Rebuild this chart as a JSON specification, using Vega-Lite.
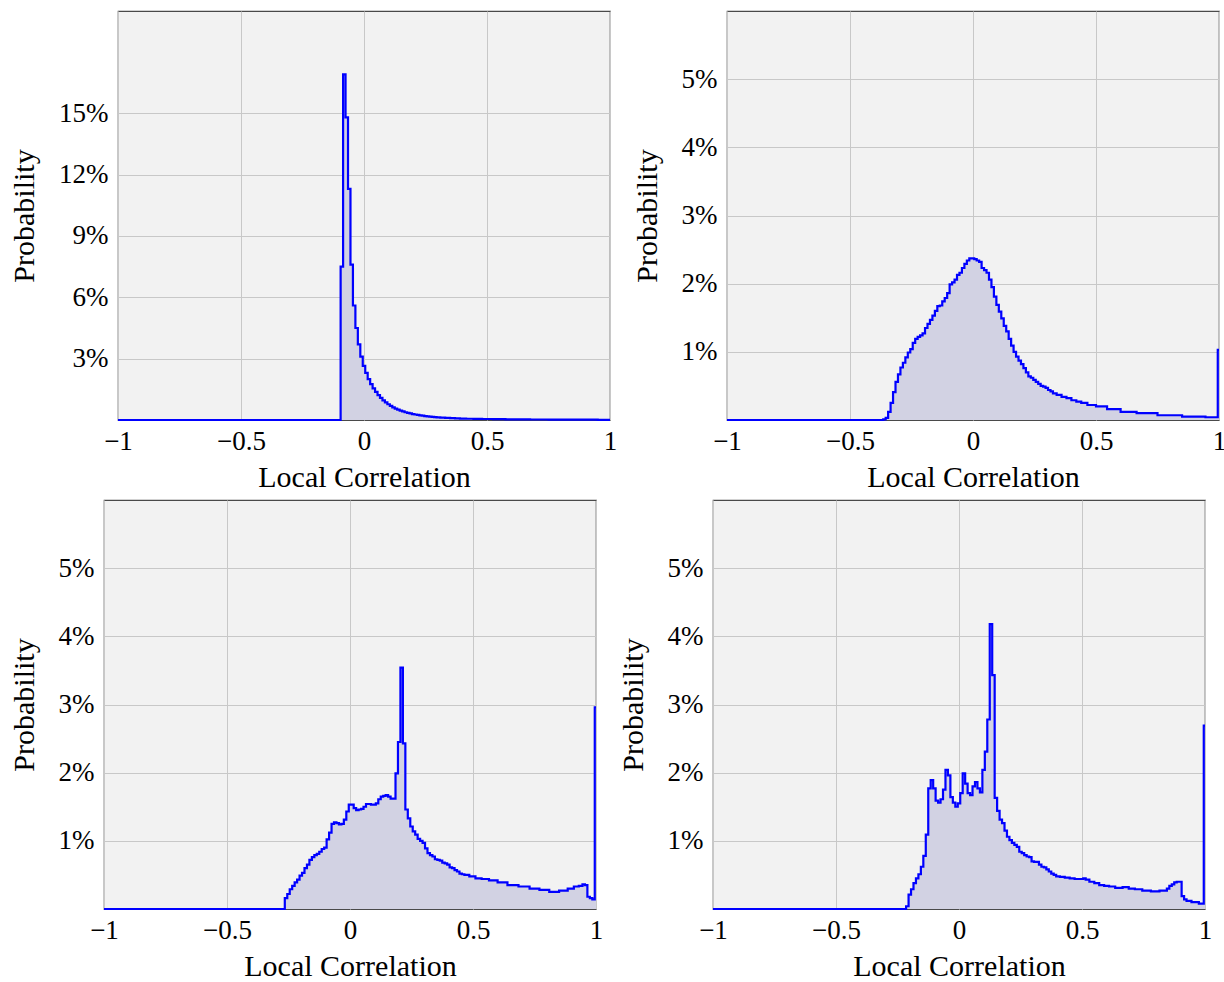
{
  "$schema": "https://vega.github.io/schema/vega-lite/v6.json",
  "padding": {"left": -12, "top": 8, "right": 0, "bottom": 0},
  "background": "white",
  "config": {
    "view": {"fill": "#f2f2f2", "stroke": "#4a4a4a", "strokeWidth": 1.2},
    "axis": {
      "labelFont": "Liberation Serif", "titleFont": "Liberation Serif",
      "labelFontSize": 27, "titleFontSize": 30, "titleFontWeight": "normal",
      "labelColor": "#000000", "titleColor": "#000000",
      "gridColor": "#c8c8c8", "gridWidth": 1, "domain": false, "ticks": false,
      "labelPadding": 10, "labelFlush": false, "labelOverlap": false, "labelBound": false
    },
    "axisX": {"titlePadding": 8, "labelPadding": 8},
    "axisY": {"titlePadding": 19}
  },
  "datasets": {
    "tl": [
      {"x": -1, "p": 0}, {"x": -0.10, "p": 0}, {"x": -0.09, "p": 7.5}, {"x": -0.08, "p": 16.9}, {"x": -0.07, "p": 14.8},
      {"x": -0.06, "p": 11.3}, {"x": -0.05, "p": 7.6}, {"x": -0.04, "p": 5.6}, {"x": -0.03, "p": 4.5}, {"x": -0.02, "p": 3.7},
      {"x": -0.01, "p": 3.1}, {"x": 0, "p": 2.65}, {"x": 0.01, "p": 2.3}, {"x": 0.02, "p": 2.0}, {"x": 0.03, "p": 1.75},
      {"x": 0.04, "p": 1.55}, {"x": 0.05, "p": 1.38}, {"x": 0.06, "p": 1.22}, {"x": 0.07, "p": 1.08}, {"x": 0.08, "p": 0.96},
      {"x": 0.09, "p": 0.86}, {"x": 0.10, "p": 0.77}, {"x": 0.11, "p": 0.69}, {"x": 0.12, "p": 0.62}, {"x": 0.13, "p": 0.56},
      {"x": 0.14, "p": 0.51}, {"x": 0.15, "p": 0.46}, {"x": 0.16, "p": 0.42}, {"x": 0.17, "p": 0.38}, {"x": 0.18, "p": 0.35},
      {"x": 0.19, "p": 0.32}, {"x": 0.20, "p": 0.29}, {"x": 0.21, "p": 0.27}, {"x": 0.22, "p": 0.25}, {"x": 0.23, "p": 0.23},
      {"x": 0.24, "p": 0.21}, {"x": 0.25, "p": 0.19}, {"x": 0.26, "p": 0.18}, {"x": 0.27, "p": 0.165}, {"x": 0.28, "p": 0.15},
      {"x": 0.29, "p": 0.14}, {"x": 0.30, "p": 0.13}, {"x": 0.32, "p": 0.115}, {"x": 0.34, "p": 0.10}, {"x": 0.36, "p": 0.09},
      {"x": 0.38, "p": 0.08}, {"x": 0.40, "p": 0.07}, {"x": 0.43, "p": 0.06}, {"x": 0.46, "p": 0.055}, {"x": 0.50, "p": 0.05},
      {"x": 0.55, "p": 0.04}, {"x": 0.60, "p": 0.035}, {"x": 0.65, "p": 0.03}, {"x": 0.70, "p": 0.025}, {"x": 0.80, "p": 0.02},
      {"x": 0.90, "p": 0.015}, {"x": 1, "p": 0.01}
    ],
    "tr": [
      {"x": -1, "p": 0}, {"x": -0.37, "p": 0}, {"x": -0.36, "p": 0.01}, {"x": -0.35, "p": 0.03}, {"x": -0.34, "p": 0.12},
      {"x": -0.33, "p": 0.25}, {"x": -0.32, "p": 0.41}, {"x": -0.31, "p": 0.56}, {"x": -0.30, "p": 0.67}, {"x": -0.29, "p": 0.77},
      {"x": -0.28, "p": 0.84}, {"x": -0.27, "p": 0.92}, {"x": -0.26, "p": 0.99}, {"x": -0.25, "p": 1.04}, {"x": -0.24, "p": 1.13},
      {"x": -0.23, "p": 1.19}, {"x": -0.22, "p": 1.22}, {"x": -0.21, "p": 1.24}, {"x": -0.20, "p": 1.27}, {"x": -0.19, "p": 1.35},
      {"x": -0.18, "p": 1.41}, {"x": -0.17, "p": 1.47}, {"x": -0.16, "p": 1.53}, {"x": -0.15, "p": 1.60}, {"x": -0.14, "p": 1.67},
      {"x": -0.13, "p": 1.68}, {"x": -0.12, "p": 1.74}, {"x": -0.11, "p": 1.79}, {"x": -0.10, "p": 1.86}, {"x": -0.09, "p": 1.99},
      {"x": -0.08, "p": 2.02}, {"x": -0.07, "p": 2.06}, {"x": -0.06, "p": 2.13}, {"x": -0.05, "p": 2.16}, {"x": -0.04, "p": 2.23},
      {"x": -0.03, "p": 2.29}, {"x": -0.02, "p": 2.34}, {"x": -0.01, "p": 2.37}, {"x": 0, "p": 2.37}, {"x": 0.01, "p": 2.36},
      {"x": 0.02, "p": 2.34}, {"x": 0.03, "p": 2.32}, {"x": 0.04, "p": 2.23}, {"x": 0.05, "p": 2.20}, {"x": 0.06, "p": 2.16},
      {"x": 0.07, "p": 2.06}, {"x": 0.08, "p": 1.95}, {"x": 0.09, "p": 1.81}, {"x": 0.10, "p": 1.69}, {"x": 0.11, "p": 1.59},
      {"x": 0.12, "p": 1.49}, {"x": 0.13, "p": 1.38}, {"x": 0.14, "p": 1.30}, {"x": 0.15, "p": 1.19}, {"x": 0.16, "p": 1.09},
      {"x": 0.17, "p": 1.00}, {"x": 0.18, "p": 0.93}, {"x": 0.19, "p": 0.87}, {"x": 0.20, "p": 0.82}, {"x": 0.21, "p": 0.76},
      {"x": 0.22, "p": 0.70}, {"x": 0.23, "p": 0.64}, {"x": 0.24, "p": 0.62}, {"x": 0.25, "p": 0.59}, {"x": 0.26, "p": 0.56},
      {"x": 0.27, "p": 0.53}, {"x": 0.28, "p": 0.50}, {"x": 0.29, "p": 0.49}, {"x": 0.30, "p": 0.47}, {"x": 0.31, "p": 0.44},
      {"x": 0.32, "p": 0.42}, {"x": 0.33, "p": 0.39}, {"x": 0.35, "p": 0.37}, {"x": 0.37, "p": 0.34}, {"x": 0.39, "p": 0.32},
      {"x": 0.41, "p": 0.29}, {"x": 0.43, "p": 0.27}, {"x": 0.45, "p": 0.25}, {"x": 0.48, "p": 0.22}, {"x": 0.52, "p": 0.20},
      {"x": 0.57, "p": 0.16}, {"x": 0.63, "p": 0.12}, {"x": 0.70, "p": 0.10}, {"x": 0.80, "p": 0.07}, {"x": 0.90, "p": 0.05},
      {"x": 0.99, "p": 0.04}, {"x": 1, "p": 1.03}
    ],
    "bl": [
      {"x": -1, "p": 0}, {"x": -0.27, "p": 0}, {"x": -0.26, "p": 0.16}, {"x": -0.25, "p": 0.22}, {"x": -0.24, "p": 0.29},
      {"x": -0.23, "p": 0.34}, {"x": -0.22, "p": 0.39}, {"x": -0.21, "p": 0.43}, {"x": -0.20, "p": 0.49}, {"x": -0.19, "p": 0.53},
      {"x": -0.18, "p": 0.60}, {"x": -0.17, "p": 0.65}, {"x": -0.16, "p": 0.72}, {"x": -0.15, "p": 0.76}, {"x": -0.14, "p": 0.79},
      {"x": -0.13, "p": 0.81}, {"x": -0.12, "p": 0.84}, {"x": -0.11, "p": 0.88}, {"x": -0.10, "p": 0.90}, {"x": -0.09, "p": 1.02},
      {"x": -0.08, "p": 1.12}, {"x": -0.07, "p": 1.25}, {"x": -0.06, "p": 1.27}, {"x": -0.05, "p": 1.26}, {"x": -0.04, "p": 1.24},
      {"x": -0.03, "p": 1.25}, {"x": -0.02, "p": 1.31}, {"x": -0.01, "p": 1.43}, {"x": 0, "p": 1.53}, {"x": 0.01, "p": 1.53},
      {"x": 0.02, "p": 1.48}, {"x": 0.03, "p": 1.45}, {"x": 0.04, "p": 1.46}, {"x": 0.05, "p": 1.47}, {"x": 0.06, "p": 1.50},
      {"x": 0.07, "p": 1.54}, {"x": 0.08, "p": 1.54}, {"x": 0.09, "p": 1.53}, {"x": 0.10, "p": 1.53}, {"x": 0.11, "p": 1.55},
      {"x": 0.12, "p": 1.61}, {"x": 0.13, "p": 1.65}, {"x": 0.14, "p": 1.66}, {"x": 0.15, "p": 1.67}, {"x": 0.16, "p": 1.65},
      {"x": 0.17, "p": 1.62}, {"x": 0.18, "p": 1.62}, {"x": 0.19, "p": 1.99}, {"x": 0.20, "p": 2.45}, {"x": 0.21, "p": 3.54},
      {"x": 0.22, "p": 2.43}, {"x": 0.23, "p": 1.46}, {"x": 0.24, "p": 1.33}, {"x": 0.25, "p": 1.21}, {"x": 0.26, "p": 1.14},
      {"x": 0.27, "p": 1.09}, {"x": 0.28, "p": 1.03}, {"x": 0.29, "p": 1.00}, {"x": 0.30, "p": 0.97}, {"x": 0.31, "p": 0.89},
      {"x": 0.32, "p": 0.82}, {"x": 0.33, "p": 0.79}, {"x": 0.34, "p": 0.77}, {"x": 0.35, "p": 0.73}, {"x": 0.36, "p": 0.72},
      {"x": 0.37, "p": 0.71}, {"x": 0.38, "p": 0.68}, {"x": 0.39, "p": 0.67}, {"x": 0.40, "p": 0.65}, {"x": 0.41, "p": 0.61},
      {"x": 0.42, "p": 0.60}, {"x": 0.43, "p": 0.57}, {"x": 0.44, "p": 0.55}, {"x": 0.45, "p": 0.52}, {"x": 0.46, "p": 0.51},
      {"x": 0.47, "p": 0.50}, {"x": 0.50, "p": 0.48}, {"x": 0.52, "p": 0.45}, {"x": 0.55, "p": 0.44}, {"x": 0.58, "p": 0.42},
      {"x": 0.62, "p": 0.39}, {"x": 0.66, "p": 0.35}, {"x": 0.71, "p": 0.33}, {"x": 0.75, "p": 0.30}, {"x": 0.79, "p": 0.28},
      {"x": 0.83, "p": 0.25}, {"x": 0.87, "p": 0.27}, {"x": 0.90, "p": 0.30}, {"x": 0.92, "p": 0.33}, {"x": 0.94, "p": 0.34},
      {"x": 0.95, "p": 0.36}, {"x": 0.96, "p": 0.35}, {"x": 0.97, "p": 0.18}, {"x": 0.98, "p": 0.16}, {"x": 0.99, "p": 0.14},
      {"x": 1, "p": 2.96}
    ],
    "br": [
      {"x": -1, "p": 0}, {"x": -0.22, "p": 0}, {"x": -0.21, "p": 0.04}, {"x": -0.20, "p": 0.21}, {"x": -0.19, "p": 0.29},
      {"x": -0.18, "p": 0.38}, {"x": -0.17, "p": 0.45}, {"x": -0.16, "p": 0.51}, {"x": -0.15, "p": 0.62}, {"x": -0.14, "p": 0.78},
      {"x": -0.13, "p": 1.09}, {"x": -0.12, "p": 1.77}, {"x": -0.11, "p": 1.89}, {"x": -0.10, "p": 1.77}, {"x": -0.09, "p": 1.59},
      {"x": -0.08, "p": 1.56}, {"x": -0.07, "p": 1.61}, {"x": -0.06, "p": 1.75}, {"x": -0.05, "p": 2.04}, {"x": -0.04, "p": 1.96},
      {"x": -0.03, "p": 1.64}, {"x": -0.02, "p": 1.56}, {"x": -0.01, "p": 1.50}, {"x": 0, "p": 1.55}, {"x": 0.01, "p": 1.70},
      {"x": 0.02, "p": 1.99}, {"x": 0.03, "p": 1.84}, {"x": 0.04, "p": 1.70}, {"x": 0.05, "p": 1.67}, {"x": 0.06, "p": 1.80},
      {"x": 0.07, "p": 1.86}, {"x": 0.08, "p": 1.77}, {"x": 0.09, "p": 1.71}, {"x": 0.10, "p": 2.04}, {"x": 0.11, "p": 2.31},
      {"x": 0.12, "p": 2.78}, {"x": 0.13, "p": 4.18}, {"x": 0.14, "p": 3.43}, {"x": 0.15, "p": 1.63}, {"x": 0.16, "p": 1.44},
      {"x": 0.17, "p": 1.31}, {"x": 0.18, "p": 1.26}, {"x": 0.19, "p": 1.15}, {"x": 0.20, "p": 1.06}, {"x": 0.21, "p": 1.01},
      {"x": 0.22, "p": 0.97}, {"x": 0.23, "p": 0.94}, {"x": 0.24, "p": 0.91}, {"x": 0.25, "p": 0.84}, {"x": 0.26, "p": 0.82},
      {"x": 0.27, "p": 0.79}, {"x": 0.28, "p": 0.77}, {"x": 0.29, "p": 0.76}, {"x": 0.30, "p": 0.70}, {"x": 0.31, "p": 0.69},
      {"x": 0.32, "p": 0.69}, {"x": 0.33, "p": 0.65}, {"x": 0.34, "p": 0.62}, {"x": 0.35, "p": 0.61}, {"x": 0.36, "p": 0.58},
      {"x": 0.37, "p": 0.55}, {"x": 0.38, "p": 0.52}, {"x": 0.39, "p": 0.50}, {"x": 0.40, "p": 0.48}, {"x": 0.42, "p": 0.47},
      {"x": 0.44, "p": 0.46}, {"x": 0.46, "p": 0.45}, {"x": 0.48, "p": 0.44}, {"x": 0.50, "p": 0.44}, {"x": 0.51, "p": 0.45},
      {"x": 0.52, "p": 0.43}, {"x": 0.54, "p": 0.40}, {"x": 0.56, "p": 0.38}, {"x": 0.58, "p": 0.35}, {"x": 0.60, "p": 0.34},
      {"x": 0.62, "p": 0.33}, {"x": 0.65, "p": 0.31}, {"x": 0.68, "p": 0.32}, {"x": 0.70, "p": 0.30}, {"x": 0.73, "p": 0.29},
      {"x": 0.76, "p": 0.27}, {"x": 0.80, "p": 0.26}, {"x": 0.83, "p": 0.27}, {"x": 0.84, "p": 0.27}, {"x": 0.85, "p": 0.30},
      {"x": 0.86, "p": 0.34}, {"x": 0.87, "p": 0.36}, {"x": 0.88, "p": 0.39}, {"x": 0.89, "p": 0.40}, {"x": 0.90, "p": 0.40},
      {"x": 0.91, "p": 0.19}, {"x": 0.92, "p": 0.14}, {"x": 0.93, "p": 0.12}, {"x": 0.96, "p": 0.10}, {"x": 0.99, "p": 0.08},
      {"x": 1, "p": 2.69}
    ],
    "blank": [{"a": 0}]
  },
  "concat": [
    {
      "width": 1, "height": 1,
      "data": {"name": "blank"},
      "view": {"fill": null, "stroke": null},
      "mark": {"type": "point", "opacity": 0}
    },
    {
      "width": 492, "height": 409,
      "data": {"name": "tl"},
      "encoding": {
        "x": {"field": "x", "type": "quantitative", "scale": {"domain": [-1, 1], "nice": false},
              "axis": {"values": [-1, -0.5, 0, 0.5, 1], "title": "Local Correlation", "labelExpr": "datum.value < 0 ? '−' + abs(datum.value) : '' + datum.value"}},
        "y": {"field": "p", "type": "quantitative", "scale": {"domain": [0, 20], "nice": false},
              "axis": {"values": [3, 6, 9, 12, 15], "title": "Probability", "labelExpr": "datum.value + '%'"}}
      },
      "layer": [
        {"mark": {"type": "area", "interpolate": "step", "color": "#d2d2e3"}},
        {"mark": {"type": "line", "interpolate": "step", "color": "#0000ff", "strokeWidth": 2.2}}
      ]
    },
    {
      "width": 492, "height": 409,
      "data": {"name": "tr"},
      "encoding": {
        "x": {"field": "x", "type": "quantitative", "scale": {"domain": [-1, 1], "nice": false},
              "axis": {"values": [-1, -0.5, 0, 0.5, 1], "title": "Local Correlation", "labelExpr": "datum.value < 0 ? '−' + abs(datum.value) : '' + datum.value"}},
        "y": {"field": "p", "type": "quantitative", "scale": {"domain": [0, 6], "nice": false},
              "axis": {"values": [1, 2, 3, 4, 5], "title": "Probability", "labelExpr": "datum.value + '%'"}}
      },
      "layer": [
        {"mark": {"type": "area", "interpolate": "step", "color": "#d2d2e3"}},
        {"mark": {"type": "line", "interpolate": "step", "color": "#0000ff", "strokeWidth": 2.2}}
      ]
    },
    {
      "width": 1, "height": 1,
      "data": {"name": "blank"},
      "view": {"fill": null, "stroke": null},
      "mark": {"type": "point", "opacity": 0}
    },
    {
      "width": 492, "height": 409,
      "data": {"name": "bl"},
      "encoding": {
        "x": {"field": "x", "type": "quantitative", "scale": {"domain": [-1, 1], "nice": false},
              "axis": {"values": [-1, -0.5, 0, 0.5, 1], "title": "Local Correlation", "labelExpr": "datum.value < 0 ? '−' + abs(datum.value) : '' + datum.value"}},
        "y": {"field": "p", "type": "quantitative", "scale": {"domain": [0, 6], "nice": false},
              "axis": {"values": [1, 2, 3, 4, 5], "title": "Probability", "labelExpr": "datum.value + '%'"}}
      },
      "layer": [
        {"mark": {"type": "area", "interpolate": "step", "color": "#d2d2e3"}},
        {"mark": {"type": "line", "interpolate": "step", "color": "#0000ff", "strokeWidth": 2.2}}
      ]
    },
    {
      "width": 492, "height": 409,
      "data": {"name": "br"},
      "encoding": {
        "x": {"field": "x", "type": "quantitative", "scale": {"domain": [-1, 1], "nice": false},
              "axis": {"values": [-1, -0.5, 0, 0.5, 1], "title": "Local Correlation", "labelExpr": "datum.value < 0 ? '−' + abs(datum.value) : '' + datum.value"}},
        "y": {"field": "p", "type": "quantitative", "scale": {"domain": [0, 6], "nice": false},
              "axis": {"values": [1, 2, 3, 4, 5], "title": "Probability", "labelExpr": "datum.value + '%'"}}
      },
      "layer": [
        {"mark": {"type": "area", "interpolate": "step", "color": "#d2d2e3"}},
        {"mark": {"type": "line", "interpolate": "step", "color": "#0000ff", "strokeWidth": 2.2}}
      ]
    }
  ],
  "columns": 3,
  "align": "none",
  "spacing": {"row": 6, "column": 13}
}
